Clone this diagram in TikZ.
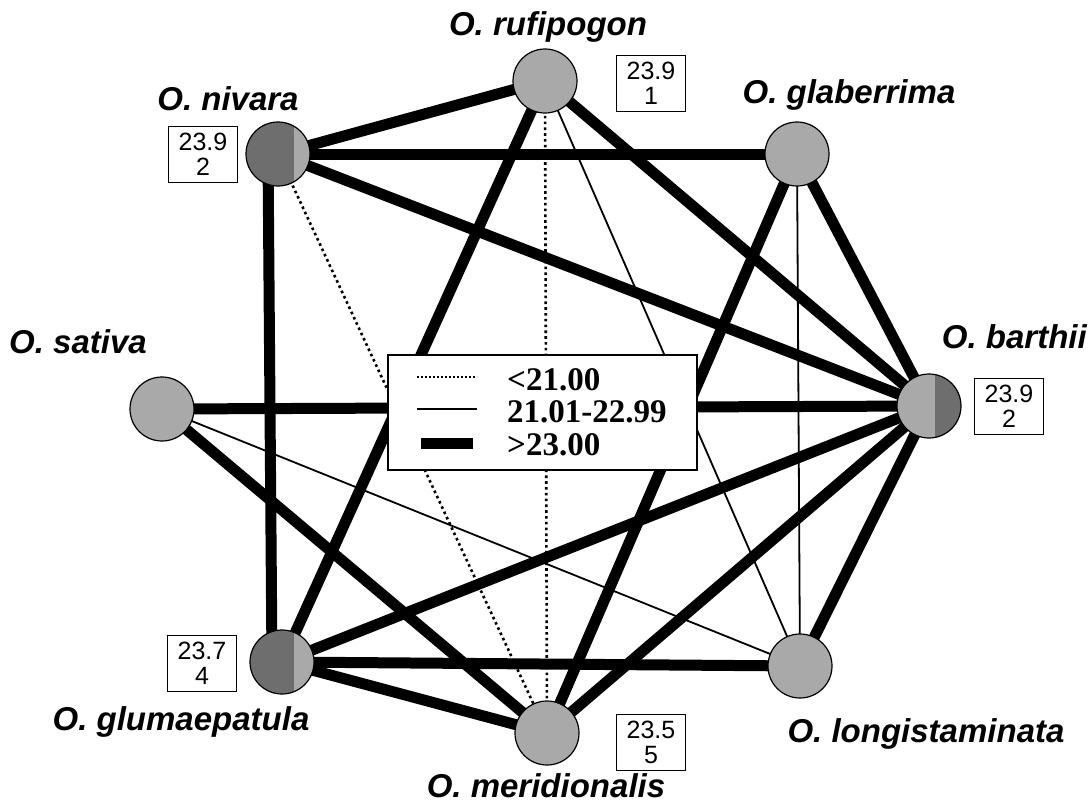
\documentclass[tikz,border=0pt]{standalone}
\usepackage{fontspec}
\setsansfont{Liberation Sans}
\setmainfont{Liberation Serif}
\pgfdeclarelayer{bg}
\pgfsetlayers{bg,main}
\definecolor{lightg}{HTML}{A9A9A9}
\definecolor{darkg}{HTML}{6E6E6E}
\tikzset{
  sp/.style={circle, draw=black, line width=1.2pt, fill=lightg, minimum size=64pt, inner sep=0pt},
  darkleft/.style={path picture={\fill[darkg] (path picture bounding box.south west) rectangle ([xshift=#1]path picture bounding box.north);}},
  darkright/.style={path picture={\fill[darkg] ([xshift=#1]path picture bounding box.south) rectangle (path picture bounding box.north east);}},
  lab/.style={font=\sffamily\bfseries\itshape\fontsize{33}{36}\selectfont, anchor=base, inner sep=0pt},
  valbox/.style={draw=black, line width=1pt, fill=white, minimum width=69pt, minimum height=56pt, inner sep=0pt, align=center, font=\sffamily\fontsize{25}{25}\selectfont},
  thick edge/.style={line width=11pt},
  thin edge/.style={line width=1.8pt},
  dot edge/.style={line width=2.6pt, dash pattern=on 2.6pt off 3.2pt},
  legtext/.style={font=\rmfamily\bfseries\fontsize{33}{34}\selectfont, anchor=base west, inner sep=0pt}
}
\begin{document}
\begin{tikzpicture}[x=1pt,y=-1pt]
\useasboundingbox (0,0) rectangle (1090,809);
% species nodes
\node[sp] (R) at (545,81) {};
\node[sp, darkleft=16pt] (N) at (278,154) {};
\node[sp] (G) at (797,154) {};
\node[sp] (S) at (162,409) {};
\node[sp, darkright=6pt] (B) at (929,406) {};
\node[sp, darkleft=12pt] (U) at (282,662) {};
\node[sp] (L) at (800,666) {};
\node[sp] (M) at (547,733) {};
% labels
\node[lab] (lR) at (548,35) {O. rufipogon};
\node[lab] (lN) at (228,110) {O. nivara};
\node[lab] (lG) at (849,103) {O. glaberrima};
\node[lab] (lS) at (78,353) {O. sativa};
\node[lab, anchor=base east] (lB) at (1087,348) {O. barthii};
\node[lab] (lU) at (181,730) {O. glumaepatula};
\node[lab] (lL) at (926,742) {O. longistaminata};
\node[lab] (lM) at (546,797) {O. meridionalis};
% value boxes
\node[valbox] (bR) at (651,83) {23.9\\1};
\node[valbox] (bN) at (203,154) {23.9\\2};
\node[valbox] (bB) at (1009,406) {23.9\\2};
\node[valbox] (bU) at (202,663) {23.7\\4};
\node[valbox] (bM) at (651,742) {23.5\\5};
% legend
\node[draw=black, line width=1.3pt, fill=white, minimum width=309pt, minimum height=115pt, inner sep=0pt] (leg) at (542.5,412.5) {};
\coordinate (d1) at (417,377);
\coordinate (d2) at (477,377);
\coordinate (t1) at (417,409);
\coordinate (t2) at (477,409);
\coordinate (k1) at (421,443);
\coordinate (k2) at (473,443);
\draw[line width=1.8pt, dash pattern=on 1.8pt off 2.2pt] (d1) -- (d2);
\draw[line width=1.8pt] (t1) -- (t2);
\draw[line width=11pt] (k1) -- (k2);
\node[legtext] (x1) at (507,390) {<21.00};
\node[legtext] (x2) at (507,422) {21.01-22.99};
\node[legtext] (x3) at (507,455) {>23.00};
% edges
\begin{pgfonlayer}{bg}
\draw[thick edge] (N.center) -- (R.center);
\draw[thick edge] (N.center) -- (G.center);
\draw[thick edge] (N.center) -- (B.center);
\draw[thick edge] ([xshift=-10pt]N.center) -- ([xshift=-10pt]U.center);
\draw[dot edge] (N.center) -- (M.center);
\draw[thick edge] (R.center) -- (U.center);
\draw[dot edge] (R.center) -- (M.center);
\draw[thin edge] (R.center) -- (L.center);
\draw[thick edge] (R.center) -- (B.center);
\draw[thick edge] (G.center) -- (M.center);
\draw[thin edge] (G.center) -- (L.center);
\draw[thick edge] (G.center) -- (B.center);
\draw[thick edge] (S.center) -- (B.center);
\draw[thick edge] (S.center) -- (M.center);
\draw[thin edge] (S.center) -- (L.center);
\draw[thick edge] (B.center) -- (U.center);
\draw[thick edge] (B.center) -- (L.center);
\draw[thick edge] (B.center) -- (M.center);
\draw[thick edge] (U.center) -- (L.center);
\draw[thick edge] (U.center) -- (M.center);
\end{pgfonlayer}
\end{tikzpicture}
\end{document}
